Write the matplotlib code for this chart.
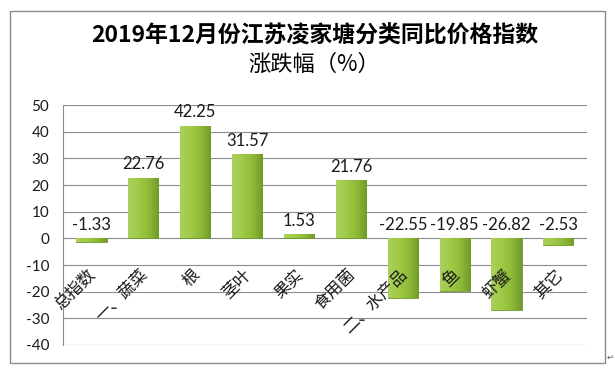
import numpy as np
import matplotlib
matplotlib.use("Agg")
from matplotlib import pyplot as plt
from matplotlib.patches import Rectangle
from matplotlib.colors import LinearSegmentedColormap

# Data
categories = ["总指数", "一、蔬菜", "根", "茎叶", "果实", "食用菌",
              "二、水产品", "鱼", "虾蟹", "其它"]
values = [-1.33, 22.76, 42.25, 31.57, 1.53, 21.76,
          -22.55, -19.85, -26.82, -2.53]
yticks = [50, 40, 30, 20, 10, 0, -10, -20, -30, -40]

plt.rcParams['font.family'] = ['Noto Sans CJK SC', 'DejaVu Sans']

fig = plt.figure(figsize=(6.15, 3.72), dpi=100)
ax = fig.add_axes([0.1024, 0.0726, 0.852, 0.6451])

# Outer frame of the chart area
fig.patches.append(Rectangle((10 / 615, 1 - 363 / 372), 595 / 615, 352 / 372,
                             transform=fig.transFigure, fill=False,
                             edgecolor='#8c8c8c', linewidth=1.0))

x = np.arange(len(categories))
bars = ax.bar(x, values, width=0.58, color='#8fbc3a', edgecolor='#6f9a2a',
              linewidth=0.6, zorder=3)

# Bevel-like gradient on each bar
cmap = LinearSegmentedColormap.from_list(
    'bev', ['#abd05c', '#a0ca47', '#8fbb38', '#73992a'])
grad = np.linspace(0, 1, 64).reshape(1, -1)
for b in bars:
    x0, y0 = b.get_x(), b.get_y()
    w, h = b.get_width(), b.get_height()
    im = ax.imshow(grad, cmap=cmap, aspect='auto', zorder=4,
                   extent=[x0, x0 + w, min(y0, y0 + h), max(y0, y0 + h)])
    im.set_clip_path(b)

# Data labels
for i, v in enumerate(values):
    ax.annotate(f"{v:.2f}", (i, max(v, 0)), xytext=(0, 4),
                textcoords='offset points', ha='center', va='bottom',
                fontsize=12, family='Lato', color='#1a1a1a', zorder=6)

# Category labels, rotated, hanging under the zero line
for i, c in enumerate(categories):
    ax.annotate(c, (i, 0), xytext=(-3, -20), textcoords='offset points',
                ha='right', va='top', rotation=45, rotation_mode='anchor',
                fontsize=12, color='#1a1a1a', zorder=6)

ax.set_xlim(-0.55, len(categories) - 0.45)
ax.set_ylim(-40, 50)
ax.set_yticks(yticks)
ax.set_yticklabels([str(t) for t in yticks], family='Lato', fontsize=11)
ax.set_xticks([])
ax.tick_params(axis='y', length=0, pad=10, colors='#1a1a1a')
ax.grid(axis='y', color='#8c8c8c', linewidth=0.8, zorder=0)
ax.set_axisbelow(True)
for s in ['top', 'right', 'bottom']:
    ax.spines[s].set_visible(False)
ax.spines['left'].set_color('#8c8c8c')

fig.text(0.511, 1 - 36 / 372, "2019年12月份江苏凌家塘分类同比价格指数",
         ha='center', va='center', fontsize=16.5, fontweight='bold')
fig.text(0.511, 1 - 64 / 372, "涨跌幅（%）",
         ha='center', va='center', fontsize=16, fontweight='medium')
fig.text(607 / 615, 1 - 357 / 372, "↵", ha='left', va='center',
         fontsize=6, color='#555555', family='DejaVu Sans')

plt.savefig('out.png', dpi=100)
